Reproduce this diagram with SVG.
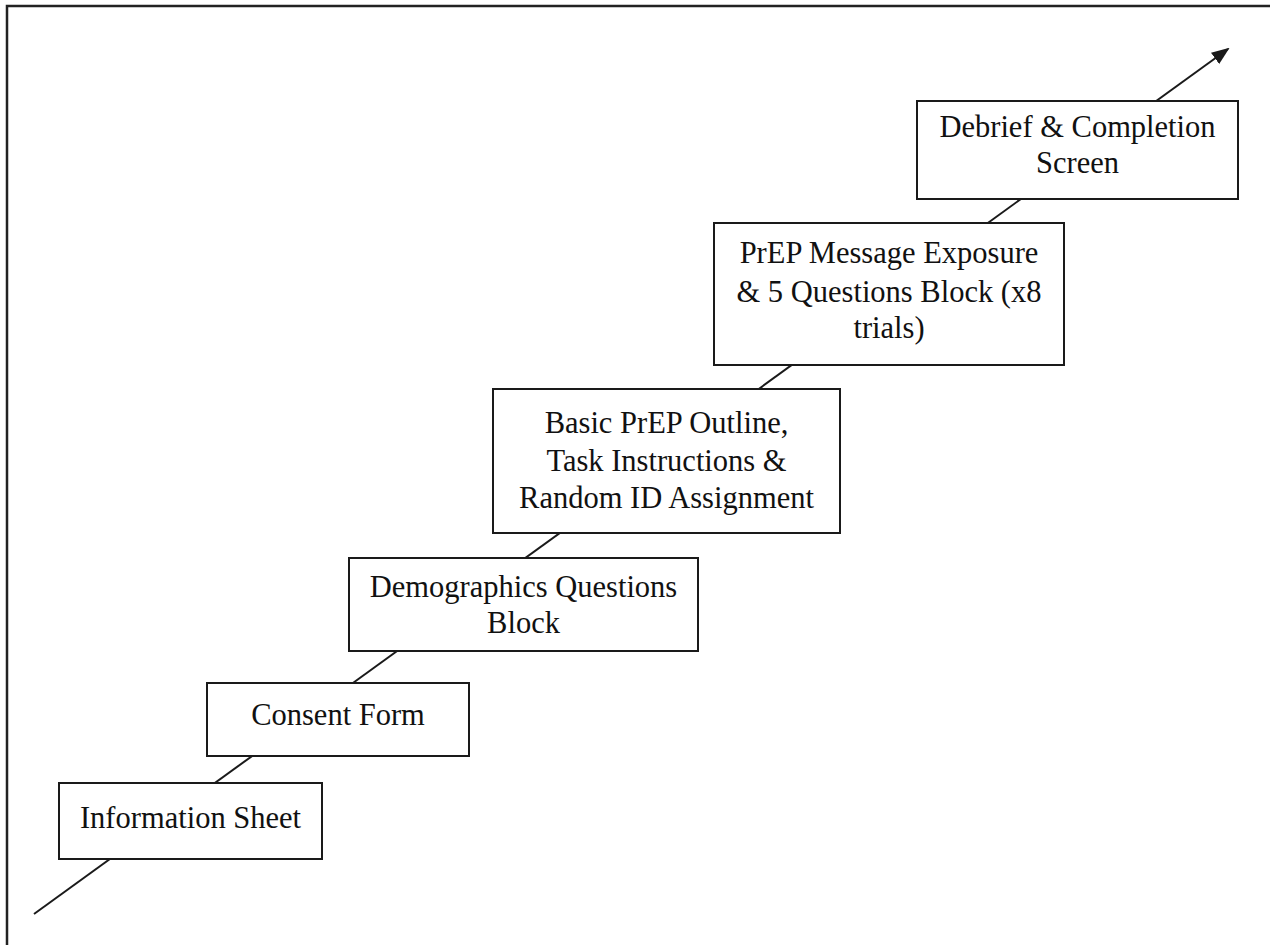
<svg xmlns="http://www.w3.org/2000/svg" width="1270" height="945" viewBox="0 0 1270 945">
<style>
.box{fill:#fff;stroke:#1a1a1a;stroke-width:2}
.t{font-family:"Liberation Serif","Times New Roman",serif;font-size:30.5px;fill:#111;text-anchor:middle}
.ln{stroke:#1a1a1a;stroke-width:2;fill:none}
</style>
<defs>
<marker id="ah" markerWidth="10" markerHeight="10" refX="8" refY="5" orient="auto" markerUnits="userSpaceOnUse" viewBox="0 0 10 10">
<path d="M0,0 L10,5 L0,10 Z" fill="#1a1a1a" transform="scale(1)"/>
</marker>
<marker id="ah2" markerWidth="18" markerHeight="14" refX="16" refY="7" orient="auto" markerUnits="userSpaceOnUse">
<path d="M0,0 L18,7 L0,14 Z" fill="#1a1a1a"/>
</marker>
</defs>
<rect x="0" y="0" width="1270" height="945" fill="#fff"/>
<path d="M7,945 L7,6 L1270,6" fill="none" stroke="#222" stroke-width="2.5"/>
<g id="connectors">
<line class="ln" x1="34" y1="914" x2="1228" y2="49" marker-end="url(#ah2)"/>
</g>
<g id="n1"><rect class="box" x="59" y="783" width="263" height="76"/><text class="t" x="190.5" y="828">Information Sheet</text></g>
<g id="n2"><rect class="box" x="207" y="683" width="262" height="73"/><text class="t" x="338" y="725">Consent Form</text></g>
<g id="n3"><rect class="box" x="349" y="558" width="349" height="93"/><text class="t" x="523.5" y="597">Demographics Questions</text><text class="t" x="523.5" y="633">Block</text></g>
<g id="n4"><rect class="box" x="493" y="389" width="347" height="144"/><text class="t" x="666.5" y="433">Basic PrEP Outline,</text><text class="t" x="666.5" y="471">Task Instructions &amp;</text><text class="t" x="666.5" y="508">Random ID Assignment</text></g>
<g id="n5"><rect class="box" x="714" y="223" width="350" height="142"/><text class="t" x="889" y="263">PrEP Message Exposure</text><text class="t" x="889" y="302">&amp; 5 Questions Block (x8</text><text class="t" x="889" y="338">trials)</text></g>
<g id="n6"><rect class="box" x="917" y="101" width="321" height="98"/><text class="t" x="1077.5" y="137">Debrief &amp; Completion</text><text class="t" x="1077.5" y="173">Screen</text></g>
</svg>
